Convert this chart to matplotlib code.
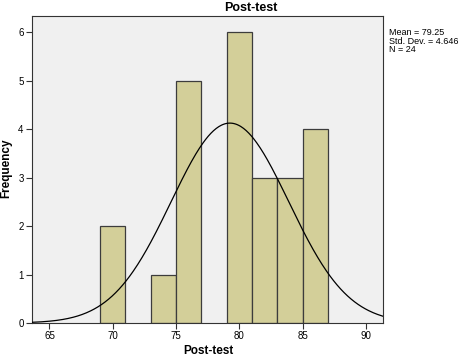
import numpy as np
import matplotlib
matplotlib.use('Agg')
from matplotlib import pyplot as plt

plt.rcParams['font.family'] = ['Liberation Sans', 'DejaVu Sans']

# histogram bins (left edge) and counts
bin_left = [69, 73, 75, 79, 81, 83, 85]
counts = [2, 1, 5, 6, 3, 3, 4]
bin_width = 2

mean = 79.25
std = 4.646
n = 24

xticks = [65, 70, 75, 80, 85, 90]
yticks = [0, 1, 2, 3, 4, 5, 6]

fig = plt.figure(figsize=(4.62, 3.56), dpi=100)
ax = fig.add_axes([32/462, 33/356, 351/462, 307/356])
ax.set_facecolor('#f0f0f0')

ax.bar(bin_left, counts, width=bin_width, align='edge',
       color='#d3cf99', edgecolor='#3c3c3c', linewidth=0.9, zorder=2)

xs = np.linspace(63.6, 91.4, 400)
pdf = n * bin_width / (std * np.sqrt(2*np.pi)) * np.exp(-0.5*((xs-mean)/std)**2)
ax.plot(xs, pdf, color='black', linewidth=0.9, zorder=3)

ax.set_xlim(63.62, 91.34)
ax.set_ylim(0, 6.33)
ax.set_xticks(xticks)
ax.set_yticks(yticks)
ax.tick_params(labelsize=7, length=4, width=0.8, color='#333333', pad=2)
for s in ax.spines.values():
    s.set_color('#333333')
    s.set_linewidth(0.8)

fig.text(208/462, 1 - 351/356, 'Post-test', fontsize=8.5, fontweight='bold',
         ha='center', va='center')
fig.text(6/462, 1 - 168/356, 'Frequency', fontsize=8.5, fontweight='bold',
         ha='center', va='center', rotation=90)
fig.text(251/462, 1 - 8/356, 'Post-test', fontsize=9, fontweight='bold',
         ha='center', va='center')

fig.text(389/462, 1 - 28/356, 'Mean = %.2f\nStd. Dev. = %.3f\nN = %d' % (mean, std, n),
         fontsize=6.5, ha='left', va='top', linespacing=0.95)

fig.savefig('out.png', dpi=100)
